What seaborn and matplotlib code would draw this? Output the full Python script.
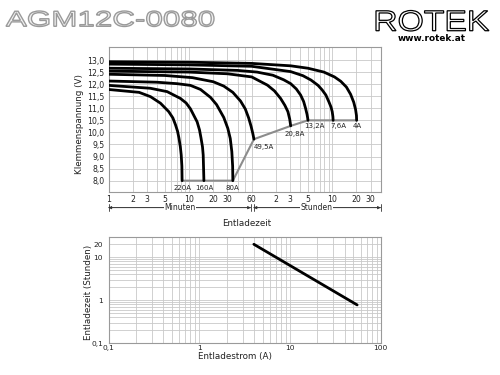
import numpy as np
import pandas as pd
import matplotlib
matplotlib.use("Agg")
import matplotlib.pyplot as plt
import seaborn as sns
from matplotlib.textpath import TextPath
from matplotlib.patches import PathPatch
from matplotlib.font_manager import FontProperties
from matplotlib.transforms import Affine2D, IdentityTransform, blended_transform_factory
from matplotlib.ticker import NullFormatter

# ---------------- data ----------------
curve_names = ["4A", "7,6A", "13,2A", "20,8A", "49,5A", "80A", "160A", "220A"]

t_4A = [1, 10, 60, 183, 300, 473, 640, 765, 900, 1015, 1110, 1170, 1200, 1206]
v_4A = [12.93, 12.91, 12.86, 12.76, 12.66, 12.50, 12.30, 12.12, 11.88, 11.58, 11.25, 10.95, 10.70, 10.50]

t_7A6 = [1, 10, 60, 183, 260, 327, 400, 450, 500, 545, 580, 600, 612, 616]
v_7A6 = [12.83, 12.80, 12.74, 12.52, 12.35, 12.17, 11.95, 11.76, 11.55, 11.27, 11.05, 10.86, 10.65, 10.50]

t_13A2 = [1, 10, 40, 70, 110, 150, 183, 215, 243, 265, 280, 292, 298, 300]
v_13A2 = [12.66, 12.63, 12.57, 12.50, 12.37, 12.18, 12.02, 11.80, 11.55, 11.28, 11.00, 10.75, 10.58, 10.50]

t_20A8 = [1, 10, 30, 60, 94, 115, 137, 155, 169, 178, 183]
v_20A8 = [12.54, 12.50, 12.43, 12.30, 11.96, 11.72, 11.41, 11.12, 10.86, 10.55, 10.27]

t_49A5 = [1, 5, 11, 20, 27, 35, 43.6, 50, 55, 59, 62, 64]
v_49A5 = [12.41, 12.36, 12.27, 12.10, 11.92, 11.66, 11.30, 10.97, 10.60, 10.25, 9.95, 9.72]

t_80A = [1, 4, 7.1, 10.4, 13.9, 18.5, 22, 27, 30.3, 32.5, 34, 34.8, 35]
v_80A = [12.13, 12.08, 12.02, 11.95, 11.78, 11.45, 11.15, 10.62, 10.17, 9.75, 9.20, 8.60, 8.00]

t_160A = [1, 3.3, 5.35, 7.8, 9.2, 10.4, 12.6, 13.5, 14.1, 14.7, 15.0, 15.3]
v_160A = [11.95, 11.83, 11.69, 11.41, 11.22, 10.98, 10.44, 10.10, 9.76, 9.40, 9.06, 8.00]

t_220A = [1, 2.4, 3.33, 4.42, 5.6, 6.3, 6.8, 7.2, 7.5, 7.8, 8.0, 8.15, 8.2]
v_220A = [11.78, 11.66, 11.48, 11.21, 10.86, 10.60, 10.31, 10.05, 9.76, 9.40, 9.06, 8.60, 8.00]

end_t = [8.2, 15.3, 35, 64, 183, 300, 616, 1206]
end_v = [8.0, 8.0, 8.0, 9.72, 10.27, 10.5, 10.5, 10.5]
end_names = ["220A", "160A", "80A", "49,5A", "20,8A", "13,2A", "7,6A", "4A"]

x_tick_pos = [1, 2, 3, 5, 10, 20, 30, 60, 120, 180, 300, 600, 1200, 1800]
x_tick_lab = ["1", "2", "3", "5", "10", "20", "30", "60", "2", "3", "5", "10", "20", "30"]
x_grid_pos = [2, 3, 4, 5, 6, 7, 8, 9, 10, 20, 30, 40, 50, 60,
              120, 180, 240, 300, 360, 420, 480, 540, 600, 1200, 1800]
y_tick_pos = [8.0, 8.5, 9.0, 9.5, 10.0, 10.5, 11.0, 11.5, 12.0, 12.5, 13.0]
y_tick_lab = ["8,0", "8,5", "9,0", "9,5", "10,0", "10,5", "11,0", "11,5", "12,0", "12,5", "13,0"]

current_A = [4, 55]
duration_h = [20, 0.78]
x2_tick_pos = [0.1, 1, 10, 100]
x2_tick_lab = ["0,1", "1", "10", "100"]
y2_tick_pos = [0.1, 1, 10, 20]
y2_tick_lab = ["0,1", "1", "10", "20"]

# ---------------- build table ----------------
series = [(t_4A, v_4A), (t_7A6, v_7A6), (t_13A2, v_13A2), (t_20A8, v_20A8),
          (t_49A5, v_49A5), (t_80A, v_80A), (t_160A, v_160A), (t_220A, v_220A)]
rows = []
for name, (ts, vs) in zip(curve_names, series):
    for i, (t, v) in enumerate(zip(ts, vs)):
        rows.append({"curve": name, "t": t, "V": v, "i": i})
df = pd.DataFrame(rows)

sns.set_theme(style="white")
plt.rcParams["font.family"] = ["DejaVu Sans"]
TXT = "#222222"
GRID = "#c9c9c9"
SPINE = "#9a9a9a"

W, H = 500, 375
fig = plt.figure(figsize=(5, 3.75), dpi=100)
fig.patch.set_facecolor("white")

L = 108.5 / W
AW = 272.2 / W
ax = fig.add_axes([L, 1 - 192 / H, AW, 145 / H])
ax2 = fig.add_axes([L, 1 - 343.3 / H, AW, 106.6 / H])

# ---------------- top chart ----------------
sns.lineplot(x=end_t, y=end_v, ax=ax, color="#8c8c8c", lw=1.5, sort=False,
             estimator=None, zorder=3)
sns.lineplot(data=df, x="t", y="V", units="curve", estimator=None, sort=False,
             color="black", lw=2.0, ax=ax, zorder=4)
ax.set_xscale("log")
ax.set_xlim(1, 2400)
ax.set_ylim(7.53, 13.54)
ax.set_xticks(x_tick_pos)
ax.set_xticklabels(x_tick_lab)
ax.set_xticks(x_grid_pos, minor=True)
ax.xaxis.set_minor_formatter(NullFormatter())
ax.set_yticks(y_tick_pos)
ax.set_yticklabels(y_tick_lab)
ax.grid(which="both", axis="x", color=GRID, lw=0.6)
ax.grid(which="major", axis="y", color=GRID, lw=0.6)
ax.tick_params(which="both", length=0, labelsize=5.6, colors=TXT)
ax.tick_params(axis="x", pad=2.2)
ax.tick_params(axis="y", pad=3)
ax.set_xlabel("")
ax.set_ylabel("")
for s in ax.spines.values():
    s.set_color(SPINE)
    s.set_linewidth(0.8)

offs = {"220A": (0, -7), "160A": (0, -7), "80A": (0, -7), "49,5A": (10, -8),
        "20,8A": (4, -8), "13,2A": (6, -6), "7,6A": (5, -6), "4A": (1, -6)}
for name, t, v in zip(end_names, end_t, end_v):
    ax.annotate(name, xy=(t, v), xytext=offs[name], textcoords="offset pixels",
                ha="center", va="center", fontsize=5.0, color=TXT, zorder=5)

ax.text(-0.105, 0.468, "Klemmenspannung (V)", transform=ax.transAxes, rotation=90,
        ha="center", va="center", fontsize=6.3, color=TXT)
ax.text(0.508, -0.215, "Entladezeit", transform=ax.transAxes,
        ha="center", va="center", fontsize=6.3, color=TXT)

bt = blended_transform_factory(ax.transData, ax.transAxes)
ya = -0.108
for (a, b, label, mid) in [(1, 58.5, "Minuten", 7.75), (63.5, 2400, "Stunden", 380)]:
    ax.annotate("", xy=(a, ya), xytext=(b, ya), xycoords=bt, textcoords=bt,
                arrowprops=dict(arrowstyle="<|-|>", color="#333333", lw=0.5,
                                mutation_scale=4.5, shrinkA=0, shrinkB=0),
                annotation_clip=False)
    ax.annotate("", xy=(a, ya), xytext=(b, ya), xycoords=bt, textcoords=bt,
                arrowprops=dict(arrowstyle="|-|,widthA=0.6,widthB=0.6", color="#333333",
                                lw=0.6, mutation_scale=4.5, shrinkA=0, shrinkB=0),
                annotation_clip=False)
    ax.text(mid, ya, label, transform=bt, ha="center", va="center", fontsize=5.5,
            color=TXT, bbox=dict(fc="white", ec="none", pad=0.2))

# ---------------- bottom chart ----------------
sns.lineplot(x=current_A, y=duration_h, ax=ax2, color="black", lw=2.0,
             estimator=None, sort=False, zorder=4)
ax2.set_xscale("log")
ax2.set_yscale("log")
ax2.set_xlim(0.1, 100)
ax2.set_ylim(0.1, 30)
ax2.set_xticks(x2_tick_pos)
ax2.set_xticklabels(x2_tick_lab)
ax2.set_yticks(y2_tick_pos)
ax2.set_yticklabels(y2_tick_lab)
xm = [m * d for d in (0.1, 1, 10) for m in range(2, 10)]
ym = [m * d for d in (0.1, 1) for m in range(2, 10)] + [30]
ax2.set_xticks(xm, minor=True)
ax2.set_yticks(ym, minor=True)
ax2.xaxis.set_minor_formatter(NullFormatter())
ax2.yaxis.set_minor_formatter(NullFormatter())
ax2.grid(which="both", color=GRID, lw=0.6)
ax2.tick_params(which="both", length=0, labelsize=5.4, colors=TXT)
ax2.tick_params(axis="x", pad=1.5)
ax2.tick_params(axis="y", pad=4)
ax2.set_xlabel("")
ax2.set_ylabel("")
for s in ax2.spines.values():
    s.set_color(SPINE)
    s.set_linewidth(0.8)
ax2.text(-0.075, 0.48, "Entladezeit (Stunden)", transform=ax2.transAxes, rotation=90,
         ha="center", va="center", fontsize=6.3, color=TXT)
ax2.text(0.465, -0.12, "Entladestrom (A)", transform=ax2.transAxes,
         ha="center", va="center", fontsize=6.3, color=TXT)

# ---------------- header: title and logo ----------------
def fitted_text(s, family, weight, box, fc, ec, lw):
    fp = FontProperties(family=family, weight=weight)
    tp = TextPath((0, 0), s, size=10, prop=fp)
    ext = tp.get_extents()
    x0, ytop, x1, ybot = box
    sx = (x1 - x0) / ext.width
    sy = (ybot - ytop) / ext.height
    tr = Affine2D().translate(-ext.x0, -ext.y0).scale(sx, sy).translate(x0, H - ybot)
    patch = PathPatch(tr.transform_path(tp), fc=fc, ec=ec, lw=lw,
                      transform=IdentityTransform())
    fig.add_artist(patch)

fitted_text("AGM12C-0080", "Liberation Sans", "normal", (6, 11, 214, 26.5),
            "#f2f2f2", "#9a9a9a", 1.0)
fitted_text("ROTEK", "Liberation Sans", "normal", (376, 10.5, 489, 31),
            "white", "black", 0.9)
fig.text(432 / W, 1 - 38.5 / H, "www.rotek.at", ha="center", va="center",
         fontsize=6.4, fontweight="bold", color="black")

fig.savefig("out.png", dpi=100, facecolor="white")
